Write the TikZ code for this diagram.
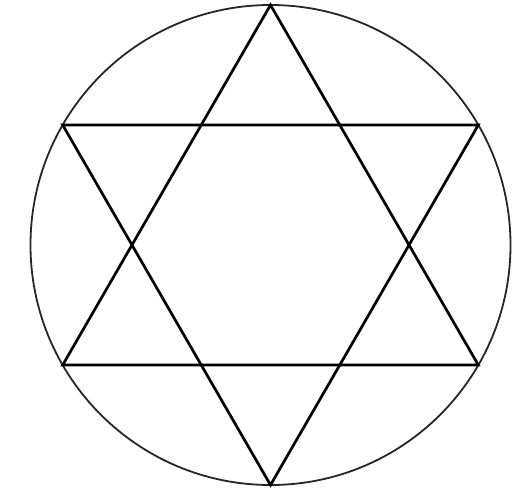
\documentclass[tikz,border=0pt]{standalone}
\begin{document}
\begin{tikzpicture}[x=1pt,y=-1pt,
  ring/.style={line width=1.8pt,black!85},
  starline/.style={line width=2.7pt,black,line join=miter}]
\useasboundingbox (0,0) rectangle (526,492);
\coordinate (c) at (270.5,245);
\coordinate (t) at (270.5,5);
\coordinate (b) at (270.5,485);
\coordinate (ul) at (62.7,125);
\coordinate (ur) at (478.3,125);
\coordinate (ll) at (62.7,365);
\coordinate (lr) at (478.3,365);
\draw[ring] (c) circle[radius=240];
\draw[starline] (t) -- (lr) -- (ll) -- cycle;
\draw[starline] (b) -- (ur) -- (ul) -- cycle;
\end{tikzpicture}
\end{document}
